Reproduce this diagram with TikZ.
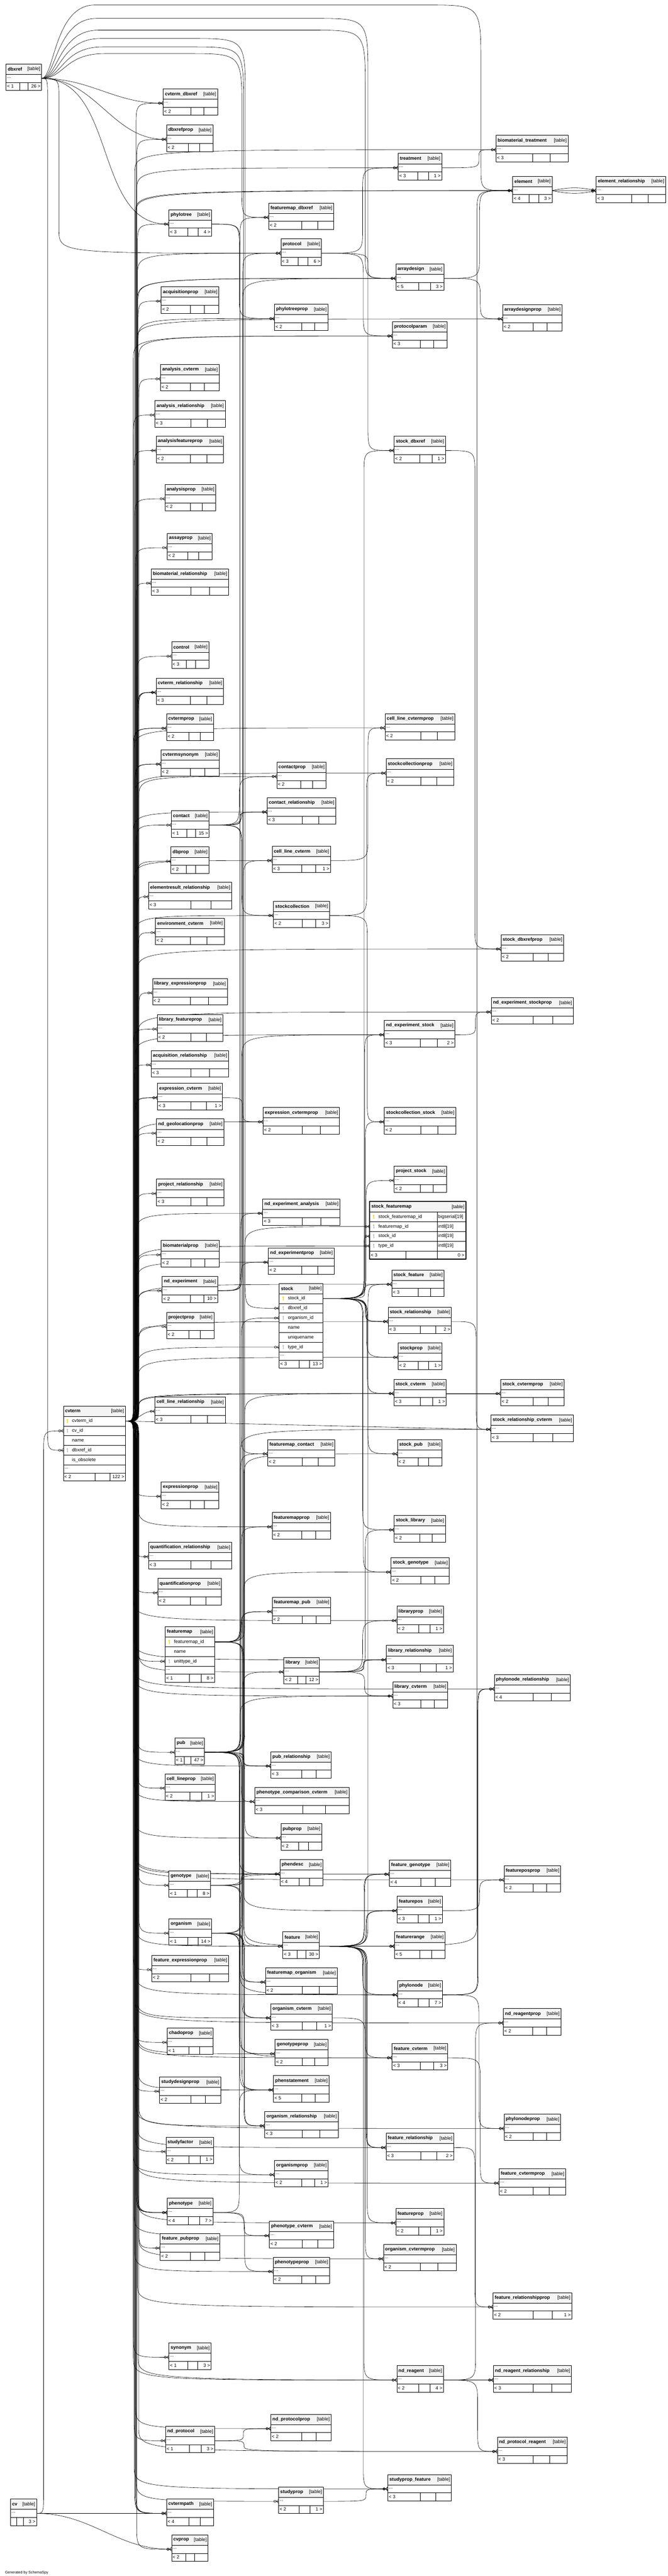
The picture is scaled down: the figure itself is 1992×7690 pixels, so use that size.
\documentclass[tikz,border=0pt]{standalone}
\usepackage{fontspec}
\setmainfont{Liberation Sans}
\usetikzlibrary{arrows.meta,backgrounds}
\definecolor{hdrgray}{RGB}{244,244,244}
\definecolor{keypk}{RGB}{232,222,0}
\definecolor{keyfk}{RGB}{190,190,190}
\tikzset{
 hdr/.style={draw,fill=hdrgray,line width=1pt},
 rowl/.style={line width=1pt},
 tname/.style={anchor=west,inner sep=0,font=\fontsize{14}{16}\selectfont\bfseries},
 ttag/.style={anchor=east,inner sep=0,font=\fontsize{14}{16}\selectfont},
 rowc/.style={draw,fill=white,line width=1pt,inner sep=0,outer sep=0,minimum height=29pt},
 dotrow/.style={rowc,minimum height=24pt},
 ctext/.style={anchor=west,inner sep=0,font=\fontsize{14}{16}\selectfont},
 ftext/.style={inner sep=0,font=\fontsize{14}{16}\selectfont},
 fk/.style={line width=0.9pt,-{Circle[open,length=7.5pt,width=7.5pt]Straight Barb[reversed,length=6pt,width=10pt]}},
 prong/.style={line width=0.9pt}
}
%==khoá
\newcommand\keyicon[3]{\fill[#3] (#1,#2-4) circle (2.6pt) (#1-0.9,#2-4) rectangle (#1+0.9,#2+6) (#1,#2+2.2) rectangle (#1+2.4,#2+3.6);}
%==bảng
\newcommand\tblhead[4]{%
 \filldraw[hdr] (#2,#3) rectangle ++(#4,31);
 \node[tname] (#1-h) at (#2+5,#3+15.5) {\detokenize{#1}};
 \node[ttag] (#1-g) at (#2+#4-4,#3+16) {[table]};}
\newcommand\tblfoot[6]{%
 \pgfmathsetmacro\cthree{max(0.25*#4,40)}%
 \pgfmathsetmacro\ctwo{0.24*#4}%
 \draw[rowl,fill=white] (#2,#3) rectangle ++(#4,24);
 \draw[rowl] (#2+#4-\cthree,#3) -- ++(0,24) (#2+#4-\cthree-\ctwo,#3) -- ++(0,24);
 \node[ftext,anchor=west] (#1-l) at (#2+3,#3+12) {#5};
 \node[ftext,anchor=east] (#1-r) at (#2+#4-3,#3+12) {#6};}
\newcommand\mktable[6]{%
 \tblhead{#1}{#2}{#3}{#4}
 \node[dotrow,minimum width=#4,anchor=north west] (#1) at (#2,#3+31) {};
 \node[ftext,anchor=west] (#1-d) at (#2+3,#3+41) {...};
 \tblfoot{#1}{#2}{#3+55}{#4}{#5}{#6}}
\newcommand\mkrow[6]{%
 \node[rowc,minimum width=#4,anchor=north west] (#1) at (#2,#3) {};
 \ifcase#6\or\keyicon{#2+12}{#3+14.5}{keypk}\or\keyicon{#2+12}{#3+14.5}{keyfk}\fi
 \node[ctext] (#1-t) at (#2+26,#3+14.5) {\detokenize{#5}};}
%==đường nối
\newcount\edgeno
\newdimen\edgeya \newdimen\edgeyb
\newcommand\fkedge[3]{%
 \global\advance\edgeno by 1
 \pgfmathsetmacro\off{mod(\the\edgeno,9)*2-8}%
 \path (#1.east) coordinate (p0) (#2.west) coordinate (p1) (#3 |- #2.west) ++(\off,0) coordinate (bend);
 \pgfextracty{\edgeya}{\pgfpointanchor{p0}{center}}%
 \pgfextracty{\edgeyb}{\pgfpointanchor{p1}{center}}%
 \pgfmathsetmacro\dyu{\edgeya-\edgeyb}%
 \pgfmathtruncatemacro\near{abs(\dyu)<32}%
 \ifnum\near=1 \draw[fk] (p0) .. controls +(40,0) and +(-40,0) .. (p1);%
 \else
  \pgfmathsetmacro\hh{\dyu>0 ? min(\dyu/2,70) : -min(-\dyu/2,70)}%
  \path (bend |- p0) coordinate (c0) ++(0,\hh) coordinate (b0) (bend) coordinate (c1) ++(0,-\hh) coordinate (b1);
  \draw[fk] (p0) .. controls (c0) .. (b0) -- (b1) .. controls (c1) .. (p1);\fi
 \draw[prong] (p1) -- ++(-6,0);}
\newcommand\fkarc[5]{%
 \path (0,#3) coordinate (ytop) (dbxref.east) ++(#4,0) coordinate (q1) (q1 |- ytop) coordinate (q2) ++(120,0) coordinate (q2e)
  (#2 |- ytop) ++(#5,0) coordinate (q3) ++(-160,0) coordinate (q3s) (q3) ++(0,180) coordinate (q3e)
  (q3 |- #1.west) coordinate (q4) ++(0,-70) coordinate (q4s);
 \draw[fk] (dbxref.east) .. controls (q1) and (q2) .. (q2e) -- (q3s) .. controls (q3) .. (q3e) -- (q4s) .. controls (q4) .. (#1.west);
 \draw[prong] (#1.west) -- ++(-6,0);}
\begin{document}
\begin{tikzpicture}[x=1pt,y=-1pt,line join=round]
\useasboundingbox (0,0) rectangle (1992,7690);
\coordinate (chA) at (406,0);
\coordinate (chB) at (722,0);
\coordinate (chC) at (1090,0);
\coordinate (chD) at (1425,0);
\coordinate (chDB) at (148,0);
\coordinate (chDP) at (180,0);
\coordinate (chCV) at (132,0);
%==Cột ngoài trái
\mktable{dbxref}{18}{191}{106}{< 1}{26 >}
\mktable{cv}{31}{7460}{78}{}{3 >}
\tblhead{cvterm}{189}{4197}{185}
\mkrow{cvterm}{189}{4228}{185}{cvterm_id}{1}
\mkrow{cvterm-cv}{189}{4257}{185}{cv_id}{2}
\mkrow{cvterm-nm}{189}{4286}{185}{name}{0}
\mkrow{cvterm-dbx}{189}{4315}{185}{dbxref_id}{2}
\mkrow{cvterm-ob}{189}{4344}{185}{is_obsolete}{0}
\node[dotrow,minimum width=185,anchor=north west] (cvterm-more) at (189,4373) {};
\node[ftext,anchor=west] (cvterm-d) at (192,4383) {...};
\tblfoot{cvterm}{189}{4397}{185}{< 2}{122 >}
%==Cột trái
\mktable{cvterm_dbxref}{487}{265}{162}{< 2}{}
\mktable{dbxrefprop}{497}{373}{138}{< 2}{}
\mktable{phylotree}{504}{626}{127}{< 3}{4 >}
\mktable{acquisitionprop}{481}{856}{172}{< 2}{}
\mktable{analysis_cvterm}{479}{1088}{175}{< 2}{}
\mktable{analysis_relationship}{462}{1196}{210}{< 3}{}
\mktable{analysisfeatureprop}{466}{1302}{201}{< 2}{}
\mktable{analysisprop}{492}{1446}{152}{< 2}{}
\mktable{assayprop}{499}{1592}{134}{< 2}{}
\mktable{biomaterial_relationship}{451}{1698}{231}{< 3}{}
\mktable{control}{512}{1916}{111}{< 3}{}
\mktable{cvterm_relationship}{466}{2024}{201}{< 3}{}
\mktable{cvtermprop}{497}{2131}{140}{< 2}{}
\mktable{cvtermsynonym}{480}{2238}{174}{< 2}{}
\mktable{contact}{511}{2420}{113}{< 1}{15 >}
\mktable{dbprop}{510}{2528}{113}{< 2}{}
\mktable{elementresult_relationship}{443}{2634}{248}{< 3}{}
\mktable{environment_cvterm}{464}{2741}{205}{< 2}{}
\mktable{library_expressionprop}{455}{2921}{223}{< 2}{}
\mktable{library_featureprop}{469}{3029}{196}{< 2}{}
\mktable{acquisition_relationship}{451}{3136}{231}{< 3}{}
\mktable{expression_cvterm}{470}{3234}{194}{< 3}{1 >}
\mktable{nd_geolocationprop}{467}{3340}{201}{< 2}{}
\mktable{project_relationship}{467}{3520}{201}{< 3}{}
\mktable{biomaterialprop}{481}{3703}{173}{< 2}{}
\mktable{nd_experiment}{484}{3810}{165}{< 2}{10 >}
\mktable{projectprop}{497}{3917}{141}{< 2}{}
\mktable{cell_line_relationship}{462}{4170}{210}{< 3}{}
\mktable{expressionprop}{481}{4424}{172}{< 2}{}
\mktable{quantification_relationship}{443}{4604}{248}{< 3}{}
\mktable{quantificationprop}{471}{4712}{190}{< 2}{}
\tblhead{featuremap}{493}{4856}{147}
\mkrow{featuremap}{493}{4887}{147}{featuremap_id}{1}
\mkrow{featuremap-nm}{493}{4916}{147}{name}{0}
\mkrow{featuremap-unit}{493}{4945}{147}{unittype_id}{2}
\node[dotrow,minimum width=147,anchor=north west] (featuremap-more) at (493,4974) {};
\node[ftext,anchor=west] (featuremap-d) at (496,4984) {...};
\tblfoot{featuremap}{493}{4998}{147}{< 1}{8 >}
\mktable{pub}{522}{5188}{88}{< 1}{47 >}
\mktable{cell_lineprop}{492}{5295}{150}{< 2}{1 >}
\mktable{genotype}{504}{5585}{124}{< 1}{8 >}
\mktable{organism}{504}{5728}{127}{< 1}{14 >}
\mktable{feature_expressionprop}{453}{5837}{229}{< 2}{}
\mktable{chadoprop}{499}{6054}{137}{< 1}{}
\mktable{studydesignprop}{476}{6200}{182}{< 2}{}
\mktable{studyfactor}{495}{6380}{142}{< 2}{1 >}
\mktable{phenotype}{499}{6562}{136}{< 4}{7 >}
\mktable{feature_pubprop}{478}{6668}{178}{< 2}{}
\mktable{synonym}{504}{6994}{126}{< 1}{3 >}
\mktable{nd_protocol}{494}{7243}{146}{< 1}{3 >}
\mktable{cvtermpath}{497}{7460}{140}{< 4}{}
\mktable{cvprop}{512}{7567}{109}{< 2}{}
%==Cột giữa
\mktable{featuremap_dbxref}{802}{606}{194}{< 2}{}
\mktable{protocol}{838}{713}{121}{< 3}{6 >}
\mktable{phylotreeprop}{819}{908}{160}{< 2}{}
\mktable{contactprop}{826}{2275}{147}{< 2}{}
\mktable{contact_relationship}{797}{2381}{205}{< 3}{}
\mktable{cell_line_cvterm}{812}{2526}{174}{< 3}{1 >}
\mktable{stockcollection}{816}{2690}{167}{< 2}{3 >}
\mktable{expression_cvtermprop}{785}{3306}{228}{< 2}{}
\mktable{nd_experiment_analysis}{784}{3579}{230}{< 3}{}
\mktable{nd_experimentprop}{801}{3725}{196}{< 2}{}
\tblhead{stock}{833}{3831}{131}
\mkrow{stock}{833}{3862}{131}{stock_id}{1}
\mkrow{stock-dbx}{833}{3891}{131}{dbxref_id}{2}
\mkrow{stock-org}{833}{3920}{131}{organism_id}{2}
\mkrow{stock-nm}{833}{3949}{131}{name}{0}
\mkrow{stock-un}{833}{3978}{131}{uniquename}{0}
\mkrow{stock-type}{833}{4007}{131}{type_id}{2}
\node[dotrow,minimum width=131,anchor=north west] (stock-more) at (833,4036) {};
\node[ftext,anchor=west] (stock-d) at (836,4046) {...};
\tblfoot{stock}{833}{4060}{131}{< 3}{13 >}
\mktable{featuremap_contact}{799}{4297}{200}{< 2}{}
\mktable{featuremapprop}{812}{4515}{174}{< 2}{}
\mktable{featuremap_pub}{812}{4768}{175}{< 2}{}
\mktable{library}{847}{4948}{106}{< 2}{12 >}
\mktable{pub_relationship}{808}{5229}{180}{< 3}{}
\mktable{phenotype_comparison_cvterm}{760}{5335}{281}{< 3}{}
\mktable{pubprop}{838}{5444}{122}{< 2}{}
\mktable{phendesc}{835}{5551}{129}{< 4}{}
\mktable{feature}{844}{5767}{109}{< 3}{30 >}
\mktable{featuremap_organism}{792}{5874}{214}{< 2}{}
\mktable{organism_cvterm}{808}{5981}{183}{< 3}{1 >}
\mktable{genotypeprop}{821}{6088}{158}{< 2}{}
\mktable{phenstatement}{816}{6196}{166}{< 5}{}
\mktable{organism_relationship}{790}{6303}{219}{< 3}{}
\mktable{organismprop}{819}{6449}{160}{< 2}{1 >}
\mktable{phenotype_cvterm}{804}{6631}{191}{< 2}{}
\mktable{phenotypeprop}{815}{6738}{168}{< 2}{}
\mktable{nd_protocolprop}{808}{7207}{180}{< 2}{}
\mktable{studyprop}{831}{7424}{134}{< 2}{1 >}
%==Cột phải
\mktable{treatment}{1188}{458}{130}{< 3}{1 >}
\mktable{arraydesign}{1181}{788}{143}{< 5}{3 >}
\mktable{protocolparam}{1171}{960}{163}{< 3}{}
\mktable{stock_dbxref}{1176}{1302}{153}{< 2}{1 >}
\mktable{cell_line_cvtermprop}{1149}{2130}{208}{< 2}{}
\mktable{stockcollectionprop}{1152}{2265}{202}{< 2}{}
\mktable{nd_experiment_stock}{1147}{3046}{210}{< 3}{2 >}
\mktable{stockcollection_stock}{1147}{3306}{213}{< 2}{}
\mktable{project_stock}{1176}{3481}{156}{< 2}{}
\tblhead{stock_featuremap}{1103}{3587}{287}
\mkrow{stock_featuremap}{1103}{3618}{287}{stock_featuremap_id}{1}
\mkrow{sfm-fmap}{1103}{3647}{287}{featuremap_id}{2}
\mkrow{sfm-stock}{1103}{3676}{287}{stock_id}{2}
\mkrow{sfm-type}{1103}{3705}{287}{type_id}{2}
\draw[rowl] (1304,3618) -- (1304,3734);
\node[ctext] (sfm-k1) at (1307,3632.5) {bigserial[19]};
\node[ctext] (sfm-k2) at (1307,3661.5) {int8[19]};
\node[ctext] (sfm-k3) at (1307,3690.5) {int8[19]};
\node[ctext] (sfm-k4) at (1307,3719.5) {int8[19]};
\draw[rowl,fill=white] (1103,3734) rectangle (1390,3759);
\draw[rowl] (1211,3734) -- (1211,3759) (1304,3734) -- (1304,3759);
\node[ftext,anchor=west] (sfm-l) at (1106,3746.5) {< 3};
\node[ftext,anchor=east] (sfm-r) at (1386,3746.5) {0 >};
\draw[line width=2.6pt] (1103,3587) rectangle (1390,3759);
\mktable{stock_feature}{1169}{3791}{156}{< 3}{}
\mktable{stock_relationship}{1158}{3902}{189}{< 3}{2 >}
\mktable{stockprop}{1188}{4009}{131}{< 2}{1 >}
\mktable{stock_cvterm}{1175}{4117}{156}{< 3}{1 >}
\mktable{stock_pub}{1186}{4297}{133}{< 2}{}
\mktable{stock_library}{1176}{4524}{153}{< 2}{}
\mktable{stock_genotype}{1167}{4650}{173}{< 2}{}
\mktable{libraryprop}{1184}{4795}{139}{< 2}{1 >}
\mktable{library_relationship}{1153}{4912}{199}{< 3}{1 >}
\mktable{library_cvterm}{1172}{5020}{164}{< 3}{}
\mktable{feature_genotype}{1162}{5552}{183}{< 4}{}
\mktable{featurepos}{1185}{5661}{135}{< 3}{1 >}
\mktable{featurerange}{1177}{5767}{151}{< 5}{}
\mktable{phylonode}{1186}{5912}{134}{< 4}{7 >}
\mktable{feature_cvterm}{1170}{6100}{166}{< 3}{3 >}
\mktable{feature_relationship}{1152}{6368}{202}{< 3}{2 >}
\mktable{featureprop}{1181}{6593}{143}{< 2}{1 >}
\mktable{organism_cvtermprop}{1144}{6700}{217}{< 2}{}
\mktable{nd_reagent}{1184}{7062}{139}{< 2}{4 >}
\mktable{studyprop_feature}{1157}{7387}{190}{< 3}{}
%==Cột ngoài phải
\mktable{biomaterial_treatment}{1480}{404}{215}{< 3}{}
\mktable{element}{1530}{526}{117}{< 4}{3 >}
\mktable{element_relationship}{1779}{526}{207}{< 3}{}
\mktable{arraydesignprop}{1500}{909}{177}{< 2}{}
\mktable{stock_dbxrefprop}{1495}{2790}{187}{< 2}{}
\mktable{nd_experiment_stockprop}{1466}{2978}{245}{< 2}{}
\mktable{stock_cvtermprop}{1494}{4117}{189}{< 2}{}
\mktable{stock_relationship_cvterm}{1465}{4224}{246}{< 3}{}
\mktable{phylonode_relationship}{1475}{4999}{227}{< 4}{}
\mktable{featureposprop}{1504}{5569}{169}{< 2}{}
\mktable{nd_reagentprop}{1502}{5996}{172}{< 2}{}
\mktable{phylonodeprop}{1504}{6311}{169}{< 2}{}
\mktable{feature_cvtermprop}{1489}{6474}{199}{< 2}{}
\mktable{feature_relationshipprop}{1471}{6844}{235}{< 2}{1 >}
\mktable{nd_reagent_relationship}{1472}{7062}{233}{< 3}{}
\mktable{nd_protocol_reagent}{1484}{7275}{208}{< 3}{}
\node[anchor=west,inner sep=0,font=\fontsize{11}{13}\selectfont] (credit) at (15,7680) {Generated by SchemaSpy};
%==Các liên kết
\begin{scope}[on background layer]
% dbxref
\foreach \c in {cvterm_dbxref,dbxrefprop,phylotree}{
 \draw[fk] (dbxref.east) to[out=0,in=180] (\c.west);
 \draw[prong] (\c.west) -- ++(-6,0);}
\fkedge{dbxref}{cvterm-dbx}{chDB}
\fkedge{dbxref}{protocol}{chDP}
\fkarc{element}{chD}{15}{38}{10}
\fkarc{stock_dbxref}{chC}{55}{44}{8}
\fkarc{arraydesign}{chC}{90}{50}{0}
\fkarc{stock-dbx}{chB}{115}{56}{10}
\fkarc{feature}{chB}{140}{62}{5}
\fkarc{featuremap_dbxref}{chB}{160}{68}{0}
% cv
\fkedge{cv}{cvterm-cv}{chCV}
\draw[fk] (cv.east) -- (cvtermpath.west);
\draw[fk] (cv.east) to[out=0,in=180] (cvprop.west);
\draw[prong] (cvprop.west) -- ++(-6,0);
% cvterm, cột trái
\foreach \c in {cvterm_dbxref,dbxrefprop,phylotree,acquisitionprop,analysis_cvterm,analysis_relationship,
 analysisfeatureprop,analysisprop,assayprop,biomaterial_relationship,control,cvterm_relationship,
 cvterm_relationship,cvterm_relationship,cvtermprop,cvtermprop,cvtermsynonym,cvtermsynonym,contact,dbprop,
 elementresult_relationship,environment_cvterm,library_expressionprop,library_featureprop,
 acquisition_relationship,expression_cvterm,expression_cvterm,nd_geolocationprop,project_relationship,
 biomaterialprop,nd_experiment,projectprop,cell_line_relationship,expressionprop,
 quantification_relationship,quantificationprop,featuremap-unit,pub,cell_lineprop,genotype,organism,
 feature_expressionprop,chadoprop,studydesignprop,studyfactor,phenotype,phenotype,phenotype,phenotype,
 feature_pubprop,synonym,nd_protocol,cvtermpath,cvtermpath,cvtermpath,cvprop}
 \fkedge{cvterm}{\c}{chA};
% cvterm, cột giữa
\foreach \c in {protocol,phylotreeprop,contactprop,contact_relationship,cell_line_cvterm,stockcollection,
 expression_cvtermprop,nd_experiment_analysis,nd_experimentprop,stock-type,featuremapprop,library,
 pub_relationship,phenotype_comparison_cvterm,pubprop,phendesc,feature,organism_cvterm,genotypeprop,
 phenstatement,organism_relationship,organismprop,phenotype_cvterm,phenotypeprop,nd_protocolprop,studyprop}
 \fkedge{cvterm}{\c}{chA};
% cvterm, cột phải
\foreach \c in {treatment,arraydesign,arraydesign,protocolparam,protocolparam,cell_line_cvtermprop,
 stockcollectionprop,nd_experiment_stock,sfm-type,stock_feature,stock_relationship,stockprop,stock_cvterm,
 libraryprop,library_relationship,library_cvterm,feature_genotype,phylonode,feature_cvterm,
 feature_relationship,featureprop,organism_cvtermprop,nd_reagent,studyprop_feature}
 \fkedge{cvterm}{\c}{chA};
% cvterm, cột ngoài phải
\foreach \c in {biomaterial_treatment,element,element_relationship,arraydesignprop,stock_dbxrefprop,
 nd_experiment_stockprop,stock_cvtermprop,stock_relationship_cvterm,phylonode_relationship,featureposprop,
 nd_reagentprop,phylonodeprop,feature_cvtermprop,feature_relationshipprop,nd_reagent_relationship,
 nd_protocol_reagent}
 \fkedge{cvterm}{\c}{chA};
% bảng cột trái
\foreach \c in {contactprop,contact_relationship,contact_relationship,featuremap_contact,stockcollection,arraydesign}
 \fkedge{contact}{\c}{chB};
\foreach \c in {pub_relationship,pub_relationship,pubprop,phendesc,phenstatement,featuremap_pub,
 phenotype_comparison_cvterm,organism_cvterm,protocol,cell_line_cvterm,stock_pub,stock_cvterm,
 feature_cvterm,library_cvterm,stock_relationship_cvterm}
 \fkedge{pub}{\c}{chB};
\foreach \c in {stock-org,feature,library,organism_cvterm,organism_relationship,organism_relationship,
 organismprop,featuremap_organism}
 \fkedge{organism}{\c}{chB};
\foreach \c in {genotypeprop,phendesc,phenstatement,feature_genotype,stock_genotype}
 \fkedge{genotype}{\c}{chB};
\foreach \c in {phenotype_cvterm,phenotypeprop,phenstatement}
 \fkedge{phenotype}{\c}{chB};
\foreach \c in {featuremap_dbxref,featuremap_contact,featuremapprop,featuremap_pub,featuremap_organism,
 featurepos,featurerange,sfm-fmap}
 \fkedge{featuremap}{\c}{chB};
\foreach \c in {phylotreeprop,phylonode}
 \fkedge{phylotree}{\c}{chB};
\foreach \c in {nd_experiment_analysis,nd_experimentprop,nd_experiment_stock}
 \fkedge{nd_experiment}{\c}{chB};
\fkedge{expression_cvterm}{expression_cvtermprop}{chB}
\foreach \c in {nd_protocolprop,nd_protocol_reagent}
 \fkedge{nd_protocol}{\c}{chB};
% bảng cột giữa
\foreach \c in {arraydesign,treatment,protocolparam}
 \fkedge{protocol}{\c}{chC};
\foreach \c in {sfm-stock,stock_feature,stock_relationship,stock_relationship,stockprop,stock_cvterm,
 stock_pub,stock_library,stock_genotype,stock_dbxref,nd_experiment_stock,stockcollection_stock,project_stock}
 \fkedge{stock}{\c}{chC};
\foreach \c in {stockcollectionprop,stockcollection_stock}
 \fkedge{stockcollection}{\c}{chC};
\fkedge{cell_line_cvterm}{cell_line_cvtermprop}{chC}
\foreach \c in {libraryprop,library_relationship,library_relationship,library_cvterm,stock_library}
 \fkedge{library}{\c}{chC};
\foreach \c in {featurepos,featurepos,featurerange,featurerange,featurerange,featurerange,
 feature_genotype,feature_genotype,feature_cvterm,feature_relationship,feature_relationship,featureprop,
 stock_feature,phylonode,studyprop_feature,nd_reagent}
 \fkedge{feature}{\c}{chC};
\fkedge{feature}{element}{chD}
\fkedge{organism_cvterm}{organism_cvtermprop}{chC}
\fkedge{studyprop}{studyprop_feature}{chC}
% bảng cột phải
\fkedge{treatment}{biomaterial_treatment}{chD}
\foreach \c in {element,arraydesignprop}
 \fkedge{arraydesign}{\c}{chD};
\fkedge{stock_dbxref}{stock_dbxrefprop}{chD}
\fkedge{nd_experiment_stock}{nd_experiment_stockprop}{chD}
\fkedge{stock_relationship}{stock_relationship_cvterm}{chD}
\fkedge{stock_cvterm}{stock_cvtermprop}{chD}
\foreach \c in {phylonode_relationship,phylonode_relationship,phylonodeprop}
 \fkedge{phylonode}{\c}{chD};
\fkedge{featurepos}{featureposprop}{chD}
\fkedge{feature_cvterm}{feature_cvtermprop}{chD}
\fkedge{feature_relationship}{feature_relationshipprop}{chD}
\foreach \c in {nd_reagentprop,nd_reagent_relationship,nd_reagent_relationship,nd_protocol_reagent}
 \fkedge{nd_reagent}{\c}{chD};
\draw[fk] (element.east) to[bend left=12] (element_relationship.west);
\draw[fk] (element.east) to[bend right=12] (element_relationship.west);
\end{scope}
\end{tikzpicture}
\end{document}
